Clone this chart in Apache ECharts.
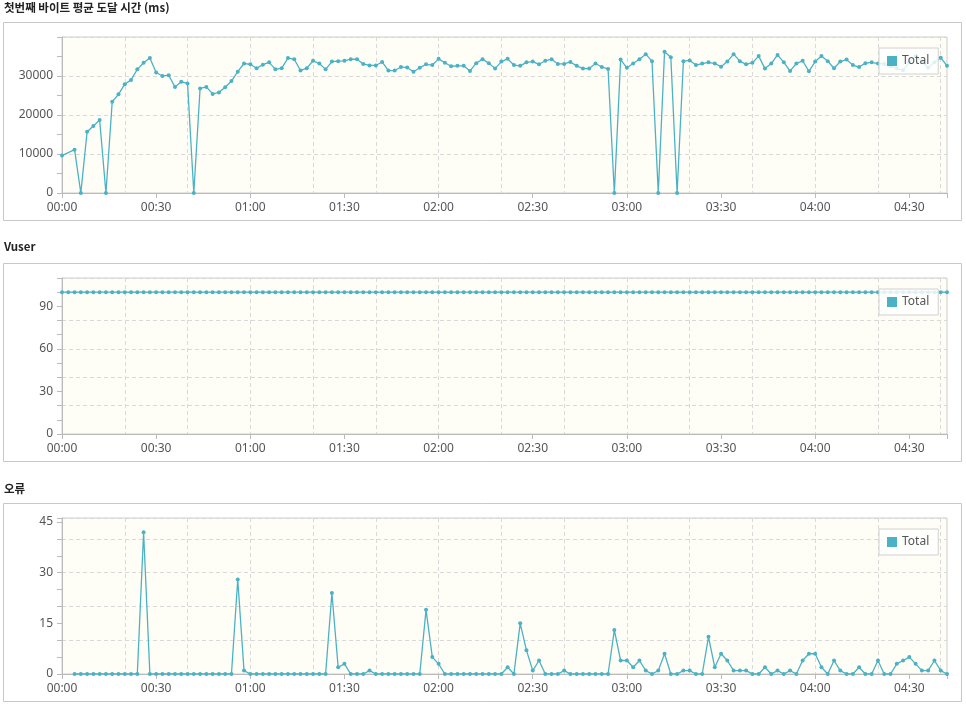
<!DOCTYPE html>
<html>
<head>
<meta charset="utf-8">
<script src="https://cdn.jsdelivr.net/npm/echarts@6/dist/echarts.min.js"></script>
<style>
html,body{margin:0;padding:0;background:#fff;}
#chart{width:966px;height:705px;}
</style>
</head>
<body>
<div id="chart"></div>
<script>
// ---- data ----
const times = [
"00:00","00:02","00:04","00:06","00:08","00:10","00:12","00:14","00:16","00:18","00:20","00:22","00:24","00:26","00:28",
"00:30","00:32","00:34","00:36","00:38","00:40","00:42","00:44","00:46","00:48","00:50","00:52","00:54","00:56","00:58",
"01:00","01:02","01:04","01:06","01:08","01:10","01:12","01:14","01:16","01:18","01:20","01:22","01:24","01:26","01:28",
"01:30","01:32","01:34","01:36","01:38","01:40","01:42","01:44","01:46","01:48","01:50","01:52","01:54","01:56","01:58",
"02:00","02:02","02:04","02:06","02:08","02:10","02:12","02:14","02:16","02:18","02:20","02:22","02:24","02:26","02:28",
"02:30","02:32","02:34","02:36","02:38","02:40","02:42","02:44","02:46","02:48","02:50","02:52","02:54","02:56","02:58",
"03:00","03:02","03:04","03:06","03:08","03:10","03:12","03:14","03:16","03:18","03:20","03:22","03:24","03:26","03:28",
"03:30","03:32","03:34","03:36","03:38","03:40","03:42","03:44","03:46","03:48","03:50","03:52","03:54","03:56","03:58",
"04:00","04:02","04:04","04:06","04:08","04:10","04:12","04:14","04:16","04:18","04:20","04:22","04:24","04:26","04:28",
"04:30","04:32","04:34","04:36","04:38","04:40","04:42"
];
const xTickLabels = ["00:00","00:30","01:00","01:30","02:00","02:30","03:00","03:30","04:00","04:30"];

const ttfbValues = [
9600,null,11100,0,15700,17200,18700,0,23400,25300,27900,29000,31700,33400,34600,
30900,30000,30200,27200,28500,28100,0,26800,27200,25400,25800,27100,28700,31100,33200,
33000,32000,32900,33500,31700,32000,34600,34300,31400,32000,33900,33200,31700,33700,33800,
33900,34300,34300,33100,32700,32700,33600,31400,31400,32300,32200,31100,32100,33000,32800,
34400,33400,32500,32600,32600,31300,33300,34300,33300,31900,33700,34400,32800,32600,33500,
33700,33000,33900,34300,33100,33100,33600,32600,31900,31900,33200,32300,31800,0,34200,
32100,33200,34300,35600,33800,0,36200,34800,0,33800,34000,32800,33200,33500,33200,
32400,33700,35600,33800,33000,33400,35100,31900,33200,35400,33500,31300,33200,33900,31200,
33700,35100,33800,32000,33700,34200,32800,32300,33300,33500,33200,33100,32500,31900,31500,
33500,35200,33800,32100,33500,34700,32600
];

const vuserValues = [
100,100,100,100,100,100,100,100,100,100,100,100,100,100,100,
100,100,100,100,100,100,100,100,100,100,100,100,100,100,100,
100,100,100,100,100,100,100,100,100,100,100,100,100,100,100,
100,100,100,100,100,100,100,100,100,100,100,100,100,100,100,
100,100,100,100,100,100,100,100,100,100,100,100,100,100,100,
100,100,100,100,100,100,100,100,100,100,100,100,100,100,100,
100,100,100,100,100,100,100,100,100,100,100,100,100,100,100,
100,100,100,100,100,100,100,100,100,100,100,100,100,100,100,
100,100,100,100,100,100,100,100,100,100,100,100,100,100,100,
100,100,100,100,100,100,100
];

const errorValues = [
null,null,0,0,0,0,0,0,0,0,0,0,0,42,0,
0,0,0,0,0,0,0,0,0,0,0,0,0,28,1,
0,0,0,0,0,0,0,0,0,0,0,0,0,24,2,
3,0,0,0,1,0,0,0,0,0,0,0,0,19,5,
3,0,0,0,0,0,0,0,0,0,0,2,0,15,7,
1,4,0,0,0,1,0,0,0,0,0,0,0,13,4,
4,2,4,1,0,1,6,0,0,1,1,0,0,11,2,
6,4,1,1,1,0,0,2,0,1,0,1,0,4,6,
6,2,0,4,1,0,0,2,0,0,4,0,0,3,4,
5,3,1,1,4,1,0
];

const ttfbYLabels = [0,10000,20000,30000];
const vuserYLabels = [0,30,60,90];
const errorYLabels = [0,15,30,45];

const panelTitles = ["첫번째 바이트 평균 도달 시간 (ms)", "Vuser", "오류"];
const seriesName = "Total";

// ---- styling / layout ----
const COLOR = '#4bb2c5';
const FONT = '"Noto Sans", "Noto Sans CJK KR", sans-serif';
const panels = [
  {title: panelTitles[0], titleTop: 1.5, boxTop: 22.5, gridTop: 37, data: ttfbValues, max: 40000, tick: 5000, grid: 10000, labels: ttfbYLabels, connect: true},
  {title: panelTitles[1], titleTop: 240.5, boxTop: 263.5, gridTop: 278, data: vuserValues, max: 110, tick: 10, grid: 20, labels: vuserYLabels},
  {title: panelTitles[2], titleTop: 482.5, boxTop: 503.5, gridTop: 518, data: errorValues, max: 46.2, tick: 5, grid: 10, labels: errorYLabels}
];

const option = {
  animation: false,
  backgroundColor: '#ffffff',
  title: [], grid: [], xAxis: [], yAxis: [], series: [], legend: [],
  graphic: []
};

panels.forEach((p, i) => {
  option.title.push({
    text: p.title, left: 4, top: p.titleTop, padding: 0,
    textStyle: {fontSize: 11.5, fontWeight: 'bold', color: '#222', fontFamily: '"Noto Sans CJK KR", "Noto Sans", sans-serif'}
  });
  option.graphic.push({
    type: 'rect', silent: true, z: 0,
    shape: {x: 3.5, y: p.boxTop, width: 958, height: 198},
    style: {fill: 'none', stroke: '#c8c8c8', lineWidth: 1}
  });
  option.grid.push({
    left: 62, top: p.gridTop, width: 885, height: 156,
    show: true, backgroundColor: '#fffef6', borderColor: '#cccccc', borderWidth: 1
  });
  option.xAxis.push({
    type: 'category', gridIndex: i, data: times, boundaryGap: false,
    axisLine: {show: true, lineStyle: {color: '#bbbbbb', width: 1}},
    axisTick: {show: true, length: 5, lineStyle: {color: '#bbbbbb'},
      interval: (idx, val) => xTickLabels.indexOf(val) >= 0 || idx === times.length - 1},
    axisLabel: {color: '#555', fontSize: 12, margin: 9, fontFamily: FONT,
      interval: (idx, val) => xTickLabels.indexOf(val) >= 0},
    splitLine: {show: true, interval: (idx) => idx > 0 && idx % 10 === 0,
      lineStyle: {color: '#d9d9d9', type: [4, 3], width: 1}}
  });
  option.yAxis.push({
    type: 'value', gridIndex: i, min: 0, max: p.max, interval: p.tick, position: 'left',
    axisLine: {show: true, lineStyle: {color: '#bbbbbb', width: 1}},
    axisTick: {show: true, length: 5, lineStyle: {color: '#bbbbbb'}},
    axisLabel: {color: '#555', fontSize: 12, margin: 9, fontFamily: FONT,
      formatter: (v) => p.labels.indexOf(v) >= 0 ? String(v) : ''},
    splitLine: {show: false}
  });
  option.yAxis.push({
    type: 'value', gridIndex: i, min: 0, max: p.max, interval: p.grid, position: 'right',
    axisLine: {show: false}, axisTick: {show: false}, axisLabel: {show: false},
    splitLine: {show: true, lineStyle: {color: '#d9d9d9', type: [4, 3], width: 1}}
  });
  option.series.push({
    name: seriesName, type: 'line', xAxisIndex: i, yAxisIndex: i * 2,
    data: p.data, connectNulls: !!p.connect,
    symbol: 'circle', symbolSize: 4, showSymbol: true, showAllSymbol: true,
    color: COLOR,
    itemStyle: {color: COLOR},
    lineStyle: {color: COLOR, width: 1.3},
    z: 3
  });
  option.legend.push({
    data: [seriesName], left: 879, top: p.gridTop + 11,
    orient: 'vertical', padding: [7, 9, 7, 8],
    backgroundColor: 'rgba(255,255,255,0.82)', borderColor: '#d0d0d0', borderWidth: 1,
    icon: 'rect', itemWidth: 10, itemHeight: 10, itemGap: 5,
    textStyle: {color: '#555', fontSize: 12, fontFamily: FONT},
    selectedMode: false, z: 6
  });
});

const chart = echarts.init(document.getElementById('chart'), null, {renderer: 'canvas'});
chart.setOption(option);
</script>
</body>
</html>
